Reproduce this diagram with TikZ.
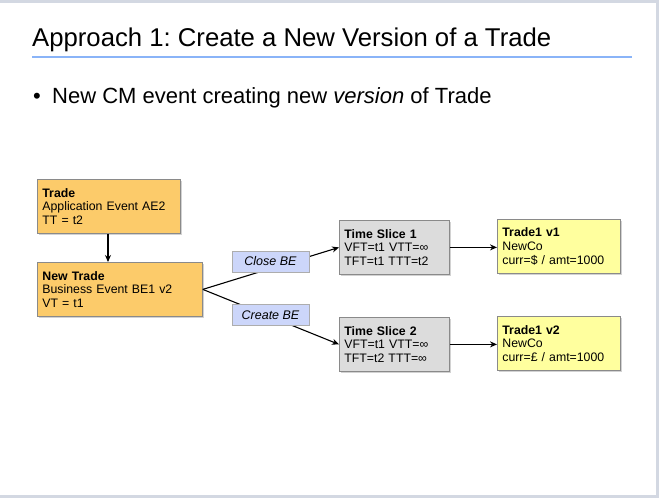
\documentclass[tikz,border=0pt]{standalone}
\usepackage{fontspec}
\setmainfont{Liberation Sans}
\usetikzlibrary{arrows.meta,shadows}
\definecolor{SlideEdge}{HTML}{D3D8E2}
\definecolor{TitleRule}{HTML}{8AB4F8}
\definecolor{TradeOrange}{HTML}{FCCB6A}
\definecolor{SliceGray}{HTML}{DCDCDC}
\definecolor{VersionYellow}{HTML}{FFFF9E}
\definecolor{EventBlue}{HTML}{CCD6FA}
\definecolor{BoxEdge}{HTML}{8A8A8A}
\frenchspacing

\begin{document}
\begin{tikzpicture}[
    x=1pt, y=-1pt,
    box/.style={draw=BoxEdge, line width=0.8pt, anchor=north west, align=left,
        inner sep=5pt, font=\fontsize{12.3}{13.8}\selectfont,
        drop shadow={shadow xshift=1.5pt, shadow yshift=-1.5pt, opacity=0.35}},
    tradebox/.style={box, fill=TradeOrange},
    slicebox/.style={box, fill=SliceGray},
    versionbox/.style={box, fill=VersionYellow},
    eventtag/.style={draw=BoxEdge!70, fill=EventBlue, line width=0.6pt,
        font=\fontsize{12.5}{14}\selectfont\itshape, minimum width=77pt,
        minimum height=21pt, inner sep=0pt},
    link/.style={-{Stealth[length=7pt,width=6pt]}, line width=1.1pt, black}
 ]
\useasboundingbox (0,0) rectangle (659,498);
\fill[white] (0,0) rectangle (659,498);
\def\wTrade{143}
\def\wNew{165}
\def\wSlice{110}
\def\wVersion{123}
\def\hBox{54}

% slide frame
\fill[SlideEdge] (0,0) rectangle (659,2.5);
\fill[SlideEdge] (656,0) rectangle (659,498);
\fill[SlideEdge] (0,495) rectangle (659,498);

% title and bullet
\node[anchor=base west, inner sep=0pt, font=\fontsize{25.7}{30}\selectfont] (title) at (32,46)
    {Approach 1: Create a New Version of a Trade};
\draw[TitleRule, line width=2pt] (32,57) -- (632,57);
\node[anchor=base west, inner sep=0pt, font=\fontsize{22}{26}\selectfont] (bullet) at (33,103) {\textbullet};
\node[anchor=base west, inner sep=0pt, font=\fontsize{22}{26}\selectfont] (point) at (52,103)
    {New CM event creating new \textit{version} of Trade};

% boxes
\node[tradebox, text width=\wTrade pt-10pt, minimum height=\hBox pt] (trade) at (37,179)
    {\textbf{Trade}\\Application Event AE2\\TT = t2};
\node[tradebox, text width=\wNew pt-10pt, minimum height=\hBox pt] (newtrade) at (37,262)
    {\textbf{New Trade}\\Business Event BE1 v2\\VT = t1};
\node[slicebox, text width=\wSlice pt-10pt, minimum height=\hBox pt] (slice1) at (339,220)
    {\textbf{Time Slice 1}\\VFT=t1 VTT=∞\\TFT=t1 TTT=t2};
\node[slicebox, text width=\wSlice pt-10pt, minimum height=\hBox pt] (slice2) at (339,317)
    {\textbf{Time Slice 2}\\VFT=t1 VTT=∞\\TFT=t2 TTT=∞};
\node[versionbox, text width=\wVersion pt-10pt, minimum height=\hBox pt] (version1) at (497,219)
    {\textbf{Trade1 v1}\\NewCo\\curr=\$ / amt=1000};
\node[versionbox, text width=\wVersion pt-10pt, minimum height=\hBox pt] (version2) at (497,316)
    {\textbf{Trade1 v2}\\NewCo\\curr=£ / amt=1000};

% connectors
\draw[link] (trade.south -| 108,0) -- (newtrade.north -| 108,0);
\draw[link] (newtrade.east) -- (slice1.west);
\draw[link] (newtrade.east) -- (slice2.west);
\draw[link] (slice1.east) -- (version1.west |- slice1.east);
\draw[link] (slice2.east) -- (version2.west |- slice2.east);

% event tags over the lines
\node[eventtag] (closebe) at (270.5,261.5) {Close BE};
\node[eventtag] (createbe) at (270.5,315) {Create BE};

\end{tikzpicture}
\end{document}
